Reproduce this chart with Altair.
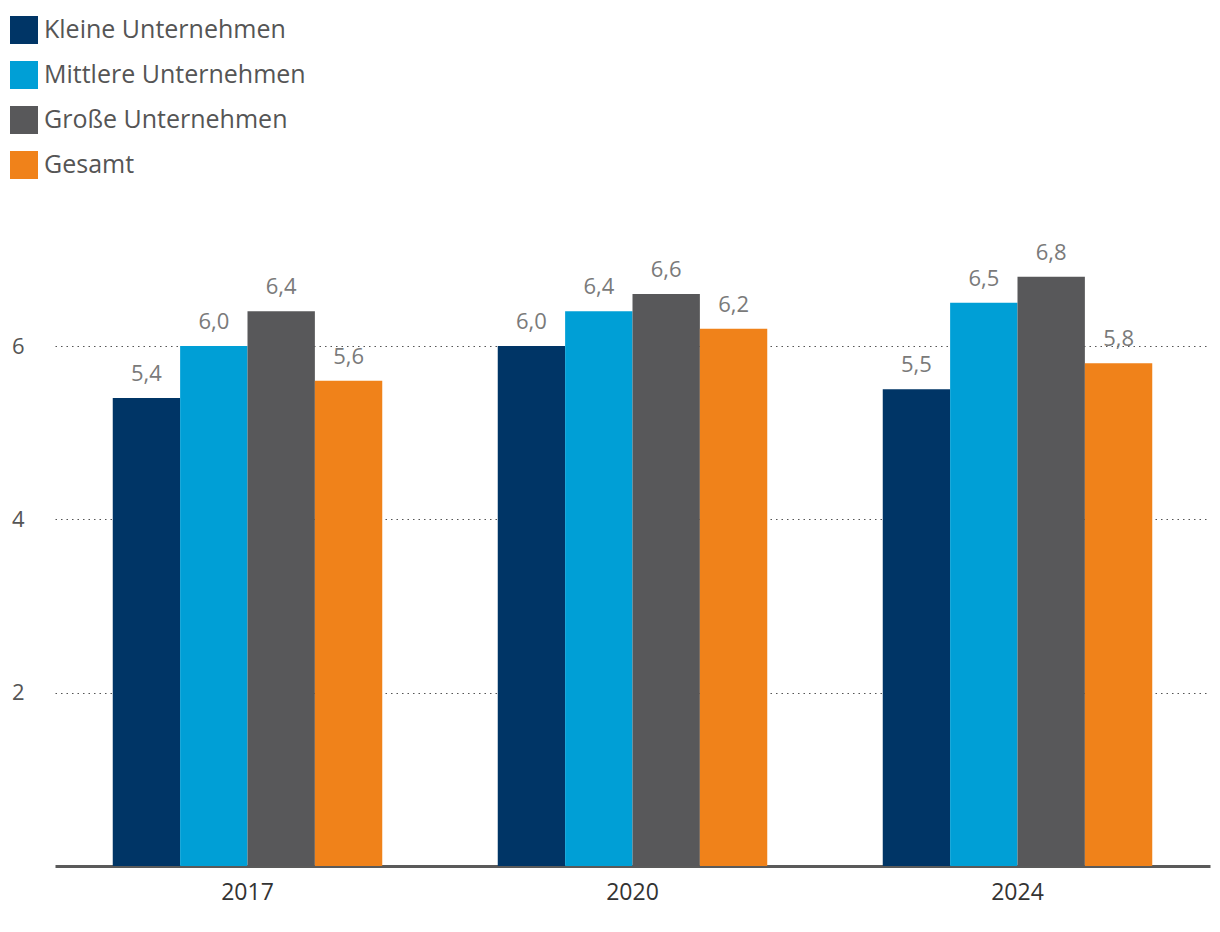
import altair as alt
import pandas as pd

years = ["2017", "2020", "2024"]
series = ["Kleine Unternehmen", "Mittlere Unternehmen", "Große Unternehmen", "Gesamt"]
colors = ["#003566", "#009fd6", "#58585a", "#f0821a"]
kleine = [5.4, 6.0, 5.5]
mittlere = [6.0, 6.4, 6.5]
grosse = [6.4, 6.6, 6.8]
gesamt = [5.6, 6.2, 5.8]

rows = []
for s, vals in zip(series, [kleine, mittlere, grosse, gesamt]):
    for y, v in zip(years, vals):
        rows.append({"Jahr": y, "Serie": s, "Wert": v,
                     "Label": f"{v:.1f}".replace(".", ",")})
df = pd.DataFrame(rows)

FONT = "Open Sans"

base = alt.Chart(df).encode(
    x=alt.X("Jahr:N", sort=years, title=None,
            scale=alt.Scale(paddingInner=0.3, paddingOuter=0.15),
            axis=alt.Axis(labelAngle=0, domain=True, domainColor="#5a5a5a",
                          domainWidth=3, ticks=False, labelFontSize=23,
                          labelColor="#333333", labelPadding=15, labelFont=FONT,
                          grid=False)),
    xOffset=alt.XOffset("Serie:N", sort=series,
                        scale=alt.Scale(paddingInner=0, paddingOuter=0)),
    y=alt.Y("Wert:Q", title=None,
            scale=alt.Scale(domain=[0, 7.5], nice=False),
            axis=alt.Axis(values=[2, 4, 6], domain=False, ticks=False,
                          labelFontSize=22, labelColor="#555555", labelFont=FONT,
                          labelPadding=31, grid=True, gridColor="#555555",
                          gridDash=[1.5, 4], gridWidth=1.2)),
)

bars = base.mark_bar().encode(
    color=alt.Color("Serie:N", sort=series,
                    scale=alt.Scale(domain=series, range=colors),
                    legend=alt.Legend(title=None, orient="none", legendX=-45,
                                      legendY=-200, symbolType="square",
                                      symbolSize=784, symbolStrokeWidth=0,
                                      symbolOpacity=1,
                                      labelFontSize=25, labelColor="#555555",
                                      labelFont=FONT, rowPadding=17,
                                      labelOffset=6, labelLimit=400,
                                      padding=0))
)

texts = base.mark_text(baseline="bottom", dy=-12, fontSize=22,
                       color="#7a7a7a", font=FONT).encode(text="Label:N")

chart = alt.layer(bars, texts).properties(
    width=1155, height=650,
    autosize=alt.AutoSizeParams(type="none"),
    padding={"left": 47, "top": 208, "right": 2, "bottom": 50},
).configure_view(stroke=None).configure_axisX(zindex=2)

chart.save("out.html", embed_options={"renderer": "svg", "actions": False})
